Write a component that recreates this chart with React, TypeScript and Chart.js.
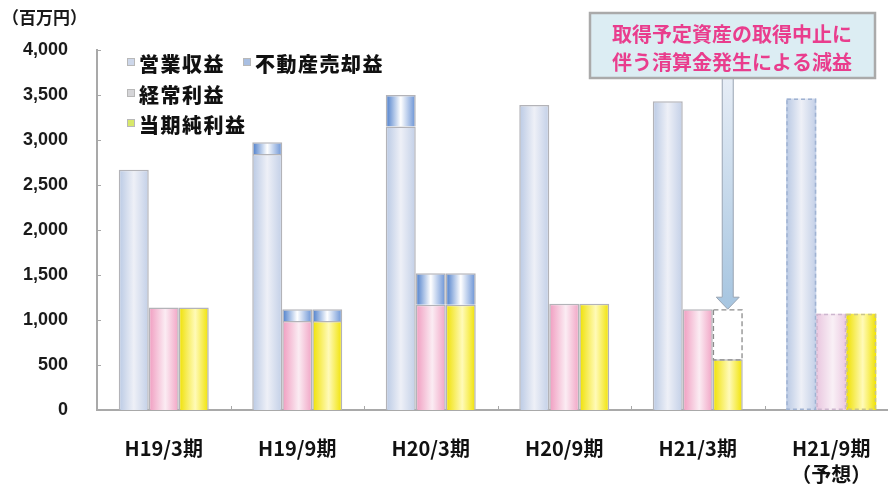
import React, { useEffect, useRef } from "react";
import { Chart, registerables } from "chart.js";

Chart.register(...registerables);

// ---- data ----
const categories: string[][] = [["H19/3期"], ["H19/9期"], ["H20/3期"], ["H20/9期"], ["H21/3期"], ["H21/9期", "（予想）"]];
const seriesNames = ["営業収益", "不動産売却益", "経常利益", "当期純利益"];
const operatingRevenue = [2670, 2845, 3150, 3390, 3430, 3460];
const realEstateGain = [null, 130, 350, null, null, null];
const ordinaryIncome = [1140, 990, 1170, 1180, 1120, 1070];
const netIncome = [1140, 990, 1170, 1180, 565, 1070];
const settlementLoss = [null, null, null, null, 555, null];
const yTickValues = [0, 500, 1000, 1500, 2000, 2500, 3000, 3500, 4000];
const yUnit = "（百万円）";
const noteLines = ["取得予定資産の取得中止に", "伴う清算金発生による減益"];
const forecastIndex = 5;
const lossCategoryIndex = 4;

// ---- styles ----
const FONT = "'Noto Sans CJK JP', 'Liberation Sans', sans-serif";
const BORDER = "#b3b3b8";
const gradBlueGray: [number, string][] = [[0, "#b9c9e4"], [0.5, "#eef0f7"], [1, "#c2cfe7"]];
const gradPink: [number, string][] = [[0, "#f09bbf"], [0.55, "#fbecf3"], [1, "#f1a3c4"]];
const gradPinkLight: [number, string][] = [[0, "#e9c6df"], [0.55, "#f9f0f6"], [1, "#ecc9e1"]];
const gradYellow: [number, string][] = [[0, "#efe000"], [0.55, "#fffab8"], [1, "#f0e200"]];
const gradCap: [number, string][] = [[0, "#477ac9"], [0.5, "#ffffff"], [1, "#6690d4"]];
const gradWhite: [number, string][] = [[0, "#ffffff"], [1, "#ffffff"]];
// per dataset: [normal, forecast]
const datasetGradients: [number, string][][][] = [
  [gradBlueGray, gradBlueGray],
  [gradCap, gradCap],
  [gradPink, gradPinkLight],
  [gradCap, gradCap],
  [gradYellow, gradYellow],
  [gradCap, gradCap],
  [gradWhite, gradWhite],
];
const forecastDash = ["#9fb2d2", null, "#cdb6cf", null, "#c9c48a", null, null];

const stylePlugin = {
  id: "stylePlugin",
  beforeDatasetsDraw(chart: any) {
    const ctx = chart.ctx;
    chart.data.datasets.forEach((_ds: any, di: number) => {
      const meta = chart.getDatasetMeta(di);
      meta.data.forEach((el: any, i: number) => {
        if (!el || el.x == null || isNaN(el.x) || !el.options) return;
        const left = el.x - el.width / 2;
        const right = el.x + el.width / 2;
        const g = ctx.createLinearGradient(left, 0, right, 0);
        const stops = datasetGradients[di][i === forecastIndex ? 1 : 0];
        stops.forEach(([o, c]) => g.addColorStop(o, c));
        try {
          el.options.backgroundColor = g;
        } catch (e) {}
      });
    });
  },
  afterDatasetsDraw(chart: any) {
    const ctx = chart.ctx;
    const area = chart.chartArea;
    const xs = chart.scales.x;
    const ys = chart.scales.y;
    ctx.save();
    // dashed borders for forecast bars
    chart.data.datasets.forEach((_ds: any, di: number) => {
      const col = forecastDash[di];
      if (!col) return;
      const el: any = chart.getDatasetMeta(di).data[forecastIndex];
      if (!el) return;
      ctx.setLineDash([4, 3]);
      ctx.lineWidth = 1.5;
      ctx.strokeStyle = col;
      ctx.strokeRect(el.x - el.width / 2 + 0.75, el.y + 0.75, el.width - 1.5, el.base - el.y - 1.5);
    });
    // dashed loss box
    const lossEl: any = chart.getDatasetMeta(6).data[lossCategoryIndex];
    ctx.setLineDash([5, 3]);
    ctx.lineWidth = 1.3;
    ctx.strokeStyle = "#8c8c8c";
    ctx.strokeRect(lossEl.x - lossEl.width / 2 + 0.7, lossEl.y + 0.7, lossEl.width - 1.4, lossEl.base - lossEl.y);
    ctx.setLineDash([]);

    // small inner ticks
    ctx.strokeStyle = "#a8a8a8";
    ctx.lineWidth = 1;
    yTickValues.forEach((v) => {
      const py = Math.round(ys.getPixelForValue(v)) + 0.5;
      ctx.beginPath();
      ctx.moveTo(area.left, py);
      ctx.lineTo(area.left + 4, py);
      ctx.stroke();
    });
    const catW = xs.width / categories.length;
    for (let i = 1; i < categories.length; i++) {
      const px = Math.round(xs.getPixelForValue(i) - catW / 2) + 0.5;
      ctx.beginPath();
      ctx.moveTo(px, area.bottom);
      ctx.lineTo(px, area.bottom - 4);
      ctx.stroke();
    }

    // arrow from note box to loss box
    const boxBottom = 78;
    const tipX = lossEl.x;
    const tipY = lossEl.y;
    const sw = 5.5, hw = 11.5, hh = 12;
    const ag = ctx.createLinearGradient(0, boxBottom, 0, tipY);
    ag.addColorStop(0, "#e6edf6");
    ag.addColorStop(1, "#a6c5e0");
    ctx.beginPath();
    ctx.moveTo(tipX - sw, boxBottom);
    ctx.lineTo(tipX - sw, tipY - hh);
    ctx.lineTo(tipX - hw, tipY - hh);
    ctx.lineTo(tipX, tipY);
    ctx.lineTo(tipX + hw, tipY - hh);
    ctx.lineTo(tipX + sw, tipY - hh);
    ctx.lineTo(tipX + sw, boxBottom);
    ctx.closePath();
    ctx.fillStyle = ag;
    ctx.fill();
    ctx.strokeStyle = "#9aa5b3";
    ctx.lineWidth = 1;
    ctx.stroke();
    ctx.restore();
  },
  afterDraw(chart: any) {
    const ctx = chart.ctx;
    ctx.save();
    // unit label
    ctx.fillStyle = "#1a1a1a";
    ctx.font = `bold 17px ${FONT}`;
    ctx.textAlign = "left";
    ctx.textBaseline = "middle";
    ctx.fillText(yUnit, 2, 18);

    // legend
    const legendColors = ["#cdd7ea", "#a9bfe2", "#d5d5d8", "#d8e86a"];
    const legendPos = [
      [127, 63],
      [243, 63],
      [127, 94],
      [127, 124],
    ];
    ctx.font = `900 20px ${FONT}`;
    try {
      (ctx as any).letterSpacing = "1.5px";
    } catch (e) {}
    seriesNames.forEach((name, i) => {
      const [lx, ly] = legendPos[i];
      ctx.fillStyle = legendColors[i];
      ctx.fillRect(lx, ly - 5, 8, 8);
      ctx.strokeStyle = "#b8b8b8";
      ctx.lineWidth = 1;
      ctx.strokeRect(lx + 0.5, ly - 4.5, 7, 7);
      ctx.fillStyle = "#111";
      ctx.fillText(name, lx + 12, ly + 1);
    });
    try {
      (ctx as any).letterSpacing = "0px";
    } catch (e) {}

    // note box
    ctx.fillStyle = "#dcedf3";
    ctx.fillRect(590, 13, 285, 65);
    ctx.strokeStyle = "#aaaaaa";
    ctx.lineWidth = 2.5;
    ctx.strokeRect(590, 13, 285, 65);
    ctx.fillStyle = "#e93d8d";
    ctx.font = `bold 20px ${FONT}`;
    ctx.textAlign = "center";
    ctx.fillText(noteLines[0], 732, 34);
    ctx.fillText(noteLines[1], 732, 62);
    ctx.restore();
  },
};

export default function App() {
  const ref = useRef<HTMLCanvasElement | null>(null);
  useEffect(() => {
    if (!ref.current) return;
    const bw = (c: any) => (c.dataIndex === forecastIndex ? 0 : 1.5);
    const common = {
      borderColor: BORDER,
      borderWidth: bw,
      barPercentage: 1,
      categoryPercentage: 0.674,
      borderSkipped: "start",
    };
    const chart = new Chart(ref.current, {
      type: "bar",
      data: {
        labels: categories,
        datasets: [
          { label: seriesNames[0], data: operatingRevenue, stack: "a", backgroundColor: () => "#dde3ef", ...common },
          { label: seriesNames[1], data: realEstateGain, stack: "a", backgroundColor: () => "#8fb0e0", ...common },
          { label: seriesNames[2], data: ordinaryIncome, stack: "b", backgroundColor: () => "#f6c6da", ...common },
          { label: seriesNames[1], data: realEstateGain, stack: "b", backgroundColor: () => "#8fb0e0", ...common },
          { label: seriesNames[3], data: netIncome, stack: "c", backgroundColor: () => "#f8ee60", ...common },
          { label: seriesNames[1], data: realEstateGain, stack: "c", backgroundColor: () => "#8fb0e0", ...common },
          { label: "減益", data: settlementLoss, stack: "c", backgroundColor: () => "#ffffff", ...common, borderWidth: 0 },
        ] as any,
      },
      options: {
        animation: false,
        responsive: false,
        locale: "en-US",
        layout: { padding: { top: 50, right: 2, left: 0, bottom: 0 } },
        plugins: { legend: { display: false }, tooltip: { enabled: false } },
        scales: {
          x: {
            stacked: true,
            grid: { display: false, drawTicks: false },
            border: { display: true, color: "#a9a9a9", width: 2 },
            ticks: {
              color: "#111",
              padding: 25,
              font: { family: FONT, size: 20, weight: "bold", lineHeight: 1.3 },
              maxRotation: 0,
              autoSkip: false,
            },
            afterFit: (s: any) => {
              s.height = 75;
            },
          },
          y: {
            stacked: true,
            min: 0,
            max: 4000,
            grid: { display: false, drawTicks: false },
            border: { display: true, color: "#a9a9a9", width: 2 },
            ticks: {
              stepSize: 500,
              color: "#1a1a1a",
              padding: 29,
              font: { family: "'Liberation Sans', sans-serif", size: 18, weight: "bold" },
              callback: (v: any) => Number(v).toLocaleString("en-US"),
            },
            afterFit: (s: any) => {
              s.width = 97;
            },
          },
        },
      } as any,
      plugins: [stylePlugin],
    });
    return () => chart.destroy();
  }, []);
  return (
    <div style={{ position: "absolute", left: 0, top: 0, width: 888, height: 485, overflow: "hidden", background: "#fff" }}>
      <canvas ref={ref} width={900} height={485} style={{ display: "block" }} />
    </div>
  );
}
